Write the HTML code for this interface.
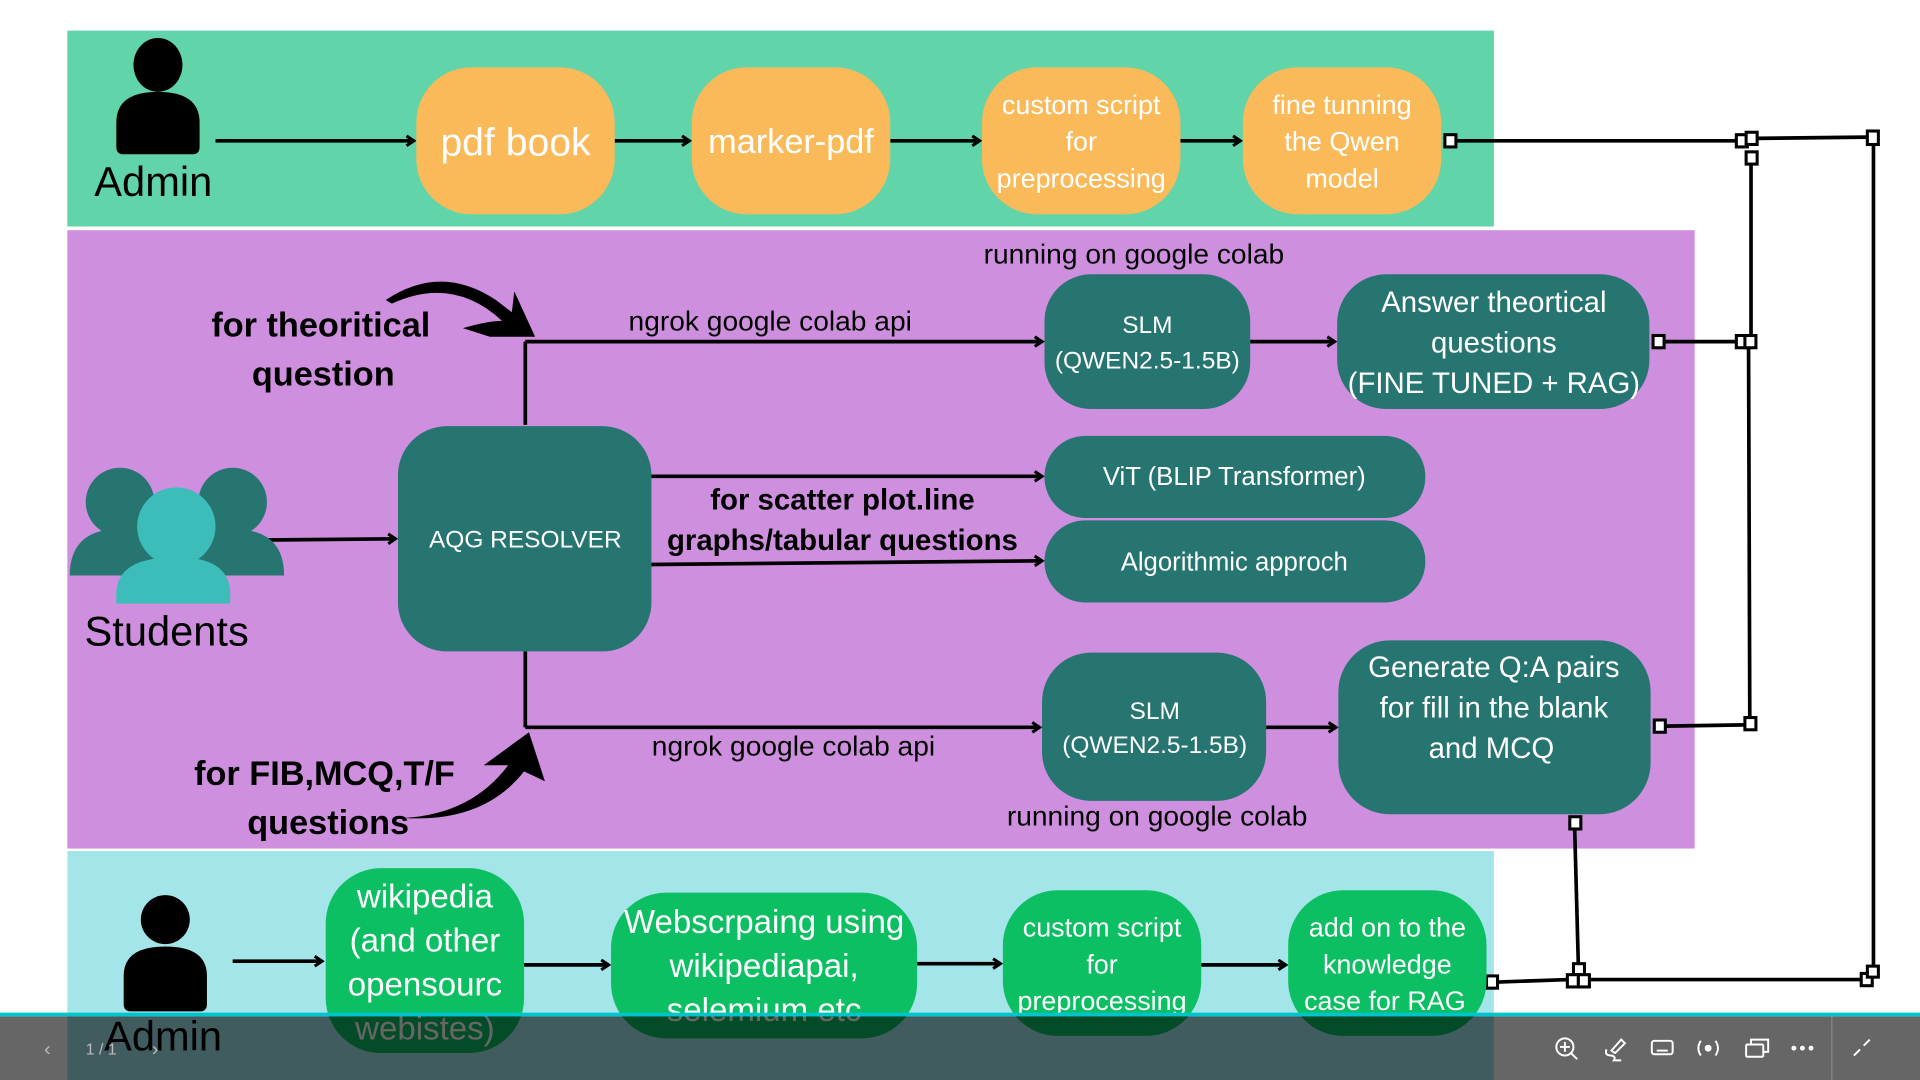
<!DOCTYPE html>
<html><head><meta charset="utf-8"><style>
html,body{margin:0;padding:0;background:#fff;}
svg{display:block;}
text{font-family:"Liberation Sans","DejaVu Sans",sans-serif;}
</style></head><body>
<svg width="1920" height="1080" viewBox="0 0 1568 882" preserveAspectRatio="none" xmlns="http://www.w3.org/2000/svg">
<defs>
<marker id="a" markerWidth="10" markerHeight="10" refX="8" refY="5" orient="auto" markerUnits="userSpaceOnUse"><path d="M2,1 L8,5 L2,9" fill="none" stroke="#000" stroke-width="2.5"/></marker>
</defs>
<rect width="1568" height="882" fill="#fff"/>
<rect x="55" y="25" width="1165" height="160" fill="#62d4a9"/>
<rect x="55" y="188" width="1329" height="505" fill="#cf8fdf"/>
<rect x="55" y="695" width="1165" height="187" fill="#a4e5ea"/>

<!-- top admin -->
<ellipse cx="129" cy="53" rx="20" ry="22" fill="#000"/>
<path d="M95,120 L95,100 Q95,75 129,75 Q163,75 163,100 L163,120 Q163,126 157,126 L101,126 Q95,126 95,120Z" fill="#000"/>
<text x="77" y="160" font-size="34">Admin</text>
<g stroke="#000" stroke-width="3" marker-end="url(#a)">
<line x1="176" y1="115" x2="338" y2="115"/>
<line x1="502" y1="115" x2="563" y2="115"/>
<line x1="727" y1="115" x2="800" y2="115"/>
<line x1="964" y1="115" x2="1013" y2="115"/>
</g>
<g fill="#fbba5a">
<rect x="340" y="55" width="162" height="120" rx="45"/>
<rect x="565" y="55" width="162" height="120" rx="45"/>
<rect x="802" y="55" width="162" height="120" rx="45"/>
<rect x="1015" y="55" width="162" height="120" rx="45"/>
</g>
<g fill="#fff" text-anchor="middle">
<text x="421" y="127" font-size="32">pdf book</text>
<text x="646" y="125" font-size="28">marker-pdf</text>
<text x="883" y="93" font-size="22">custom script</text>
<text x="883" y="123" font-size="22">for</text>
<text x="883" y="153" font-size="22">preprocessing</text>
<text x="1096" y="93" font-size="22">fine tunning</text>
<text x="1096" y="123" font-size="22">the Qwen</text>
<text x="1096" y="153" font-size="22">model</text>
</g>

<!-- purple -->
<text x="926" y="215" font-size="23" text-anchor="middle">running on google colab</text>
<text x="945" y="674" font-size="23" text-anchor="middle">running on google colab</text>
<text x="629" y="270" font-size="23" text-anchor="middle">ngrok google colab api</text>
<text x="648" y="617" font-size="23" text-anchor="middle">ngrok google colab api</text>
<g font-weight="bold" text-anchor="middle">
<text x="262" y="275" font-size="28">for theoritical</text>
<text x="264" y="315" font-size="28">question</text>
<text x="265" y="641" font-size="28">for FIB,MCQ,T/F</text>
<text x="268" y="681" font-size="28">questions</text>
<text x="688" y="416" font-size="24">for scatter plot.line</text>
<text x="688" y="449" font-size="24">graphs/tabular questions</text>
</g>
<g stroke="#000" stroke-width="3" fill="none">
<line x1="429" y1="347" x2="429" y2="279"/>
<line x1="429" y1="532" x2="429" y2="594"/>
</g>
<g stroke="#000" stroke-width="3" marker-end="url(#a)">
<line x1="429" y1="279" x2="851" y2="279"/>
<line x1="429" y1="594" x2="849" y2="594"/>
<line x1="1021" y1="279" x2="1090" y2="279"/>
<line x1="1034" y1="594" x2="1091" y2="594"/>
<line x1="532" y1="389" x2="851" y2="389"/>
<line x1="532" y1="461" x2="851" y2="458"/>
<line x1="218" y1="441" x2="323" y2="440"/>
</g>
<!-- curved arrows -->
<path d="M315,245 Q360,215 405,245 L418,255 L420,238 L437,275 L400,275 L378,268 Q398,262 410,262 Q370,225 320,248Z" fill="#000"/>
<path d="M330,668 Q385,665 415,625 L395,625 L432,598 L445,638 L428,630 Q395,672 330,668Z" fill="#000"/>

<g fill="#267570">
<rect x="853" y="224" width="168" height="110" rx="38"/>
<rect x="1092" y="224" width="255" height="110" rx="40"/>
<rect x="325" y="348" width="207" height="184" rx="40"/>
<rect x="853" y="356" width="311" height="67" rx="33"/>
<rect x="853" y="425" width="311" height="67" rx="33"/>
<rect x="851" y="533" width="183" height="121" rx="40"/>
<rect x="1093" y="523" width="255" height="142" rx="42"/>
</g>
<g fill="#fff" text-anchor="middle">
<text x="937" y="272" font-size="20">SLM</text>
<text x="937" y="301" font-size="20">(QWEN2.5-1.5B)</text>
<text x="1220" y="255" font-size="24">Answer theortical</text>
<text x="1220" y="288" font-size="24">questions</text>
<text x="1220" y="321" font-size="24">(FINE TUNED + RAG)</text>
<text x="429" y="447" font-size="20">AQG RESOLVER</text>
<text x="1008" y="396" font-size="21">ViT (BLIP Transformer)</text>
<text x="1008" y="466" font-size="21">Algorithmic approch</text>
<text x="943" y="587" font-size="20">SLM</text>
<text x="943" y="615" font-size="20">(QWEN2.5-1.5B)</text>
<text x="1220" y="553" font-size="24">Generate Q:A pairs</text>
<text x="1220" y="586" font-size="24">for fill in the blank</text>
<text x="1218" y="619" font-size="24">and MCQ</text>
</g>

<!-- students -->
<circle cx="98" cy="410" r="28" fill="#267570"/>
<path d="M57,470 Q57,432 98,432 Q139,432 139,470Z" fill="#267570"/>
<circle cx="190" cy="410" r="28" fill="#267570"/>
<path d="M150,470 Q150,432 190,432 Q232,432 232,470Z" fill="#267570"/>
<circle cx="144" cy="430" r="32" fill="#3dbdb9"/>
<path d="M95,493 L95,485 Q95,455 144,455 Q188,455 188,485 L188,493Z" fill="#3dbdb9"/>
<text x="69" y="527" font-size="34">Students</text>

<!-- right connectors -->
<g stroke="#000" stroke-width="3" fill="none">
<line x1="1189" y1="115" x2="1418" y2="115"/>
<line x1="1434" y1="113" x2="1525" y2="112"/>
<line x1="1530" y1="118" x2="1530" y2="792"/>
<line x1="1430" y1="134" x2="1430" y2="275"/>
<line x1="1428" y1="285" x2="1429" y2="588"/>
<line x1="1359" y1="279" x2="1418" y2="279"/>
<line x1="1360" y1="593" x2="1425" y2="592"/>
<line x1="1286" y1="677" x2="1289" y2="789"/>
<line x1="1223" y1="802" x2="1281" y2="800"/>
<line x1="1297" y1="800" x2="1520" y2="800"/>
</g>
<g stroke="#000" stroke-width="2.5" fill="#fff">
<rect x="1180" y="110" width="9" height="10"/>
<rect x="1418" y="110" width="9" height="10"/>
<rect x="1426" y="108" width="9" height="10"/>
<rect x="1426" y="124" width="9" height="10"/>
<rect x="1525" y="107" width="9" height="11"/>
<rect x="1350" y="274" width="9" height="10"/>
<rect x="1418" y="274" width="9" height="10"/>
<rect x="1425" y="274" width="9" height="10"/>
<rect x="1351" y="588" width="9" height="10"/>
<rect x="1425" y="586" width="9" height="10"/>
<rect x="1282" y="667" width="9" height="10"/>
<rect x="1214" y="797" width="9" height="10"/>
<rect x="1285" y="787" width="9" height="9"/>
<rect x="1280" y="796" width="9" height="10"/>
<rect x="1289" y="796" width="9" height="10"/>
<rect x="1520" y="795" width="9" height="10"/>
<rect x="1525" y="789" width="9" height="9"/>
</g>

<!-- bottom admin -->
<ellipse cx="135" cy="751" rx="20" ry="20" fill="#000"/>
<path d="M101,820 L101,797 Q101,773 135,773 Q169,773 169,797 L169,820 Q169,826 163,826 L107,826 Q101,826 101,820Z" fill="#000"/>
<text x="85" y="858" font-size="34">Admin</text>
<g stroke="#000" stroke-width="3" marker-end="url(#a)">
<line x1="190" y1="785" x2="263" y2="785"/>
<line x1="428" y1="788" x2="497" y2="788"/>
<line x1="749" y1="787" x2="817" y2="787"/>
<line x1="981" y1="788" x2="1050" y2="788"/>
</g>
<g fill="#0cbf63">
<rect x="266" y="709" width="162" height="151" rx="45"/>
<rect x="499" y="729" width="250" height="119" rx="45"/>
<rect x="819" y="727" width="162" height="119" rx="45"/>
<rect x="1052" y="727" width="162" height="119" rx="45"/>
</g>
<g fill="#fff" text-anchor="middle">
<text x="347" y="741" font-size="27">wikipedia</text>
<text x="347" y="777" font-size="27">(and other</text>
<text x="347" y="813" font-size="27">opensourc</text>
<text x="347" y="849" font-size="27">webistes)</text>
<text x="624" y="762" font-size="27">Webscrpaing using</text>
<text x="624" y="798" font-size="27">wikipediapai,</text>
<text x="624" y="834" font-size="27">selemium etc</text>
<text x="900" y="765" font-size="22">custom script</text>
<text x="900" y="795" font-size="22">for</text>
<text x="900" y="825" font-size="22">preprocessing</text>
<text x="1133" y="765" font-size="22">add on to the</text>
<text x="1133" y="795" font-size="22">knowledge</text>
<text x="1131" y="825" font-size="22">case for RAG</text>
</g>

<!-- toolbar overlay -->
<rect x="0" y="830" width="1568" height="52" fill="#000" fill-opacity="0.6"/>
<rect x="0" y="827" width="1568" height="3" fill="#00c4cc"/>
<line x1="1496" y1="830" x2="1496" y2="882" stroke="#888" stroke-width="1"/>
<text x="36" y="862" font-size="16" fill="#bbb">‹</text>
<text x="70" y="861" font-size="13" fill="#bbb">1 / 1</text>
<text x="124" y="862" font-size="16" fill="#bbb">›</text>
<g stroke="#fff" stroke-width="1.6" fill="none">
<circle cx="1278" cy="855" r="7"/><line x1="1283" y1="860" x2="1288" y2="865"/><line x1="1274" y1="855" x2="1282" y2="855"/><line x1="1278" y1="851" x2="1278" y2="859"/>
<path d="M1312,857 Q1310,862 1316,862 Q1320,863 1318,866 L1324,866 M1316,858 L1324,849 L1327,852 L1319,860Z"/>
<rect x="1349" y="850" width="17" height="11" rx="2"/><line x1="1353" y1="858" x2="1362" y2="858"/>
<circle cx="1395" cy="856" r="2" fill="#fff"/><path d="M1389,850 Q1385,856 1389,862 M1401,850 Q1405,856 1401,862"/>
<rect x="1426" y="853" width="14" height="10" rx="1"/><path d="M1430,853 L1430,849 L1444,849 L1444,859 L1440,859"/>
<line x1="1514" y1="862" x2="1519" y2="857"/><line x1="1522" y1="854" x2="1527" y2="849"/>
</g>
<g fill="#fff"><circle cx="1465" cy="856" r="2"/><circle cx="1472" cy="856" r="2"/><circle cx="1479" cy="856" r="2"/></g>
</svg>
</body></html>
